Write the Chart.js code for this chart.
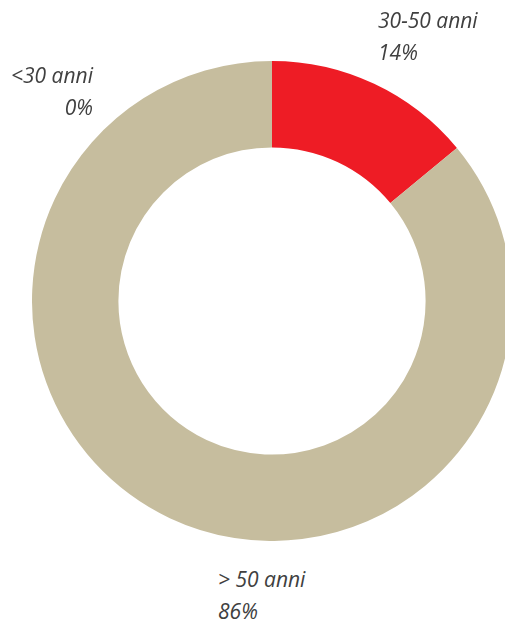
<!DOCTYPE html>
<html>
<head>
<meta charset="utf-8">
<script src="https://cdn.jsdelivr.net/npm/chart.js@4/dist/chart.umd.min.js"></script>
<style>
html,body{margin:0;padding:0;width:505px;height:620px;overflow:hidden;background:#fff;}
#wrap{position:absolute;left:32px;top:61px;width:480px;height:480px;}
.lbl{position:absolute;font-family:"Open Sans",sans-serif;font-style:italic;font-weight:400;font-size:21px;line-height:32px;color:#404040;white-space:nowrap;}
</style>
</head>
<body>
<div id="wrap"><canvas id="c" width="480" height="480"></canvas></div>
<script>
const categories = ["<30 anni", "30-50 anni", "> 50 anni"];
const values = [0, 14, 86];
const valueLabels = ["0%", "14%", "86%"];
const colors = ["#C6BD9E", "#EE1C25", "#C6BD9E"];

new Chart(document.getElementById('c'), {
  type: 'doughnut',
  data: {
    labels: categories,
    datasets: [{ data: values, backgroundColor: colors, borderWidth: 0 }]
  },
  options: {
    responsive: false,
    animation: false,
    cutout: '64%',
    layout: { padding: 0 },
    plugins: { legend: { display: false }, tooltip: { enabled: false } }
  }
});

// label placements (layout only)
const placements = [
  { left: 8, top: 59, width: 85, align: 'right' },
  { left: 378, top: 4, width: 130, align: 'left' },
  { left: 218, top: 563, width: 130, align: 'left' }
];
categories.forEach((c, i) => {
  const d = document.createElement('div');
  d.className = 'lbl';
  const p = placements[i];
  d.style.left = p.left + 'px';
  d.style.top = p.top + 'px';
  d.style.width = p.width + 'px';
  d.style.textAlign = p.align;
  const a = document.createElement('div'); a.textContent = c;
  const b = document.createElement('div'); b.textContent = valueLabels[i];
  d.appendChild(a); d.appendChild(b);
  document.body.appendChild(d);
});
</script>
</body>
</html>
